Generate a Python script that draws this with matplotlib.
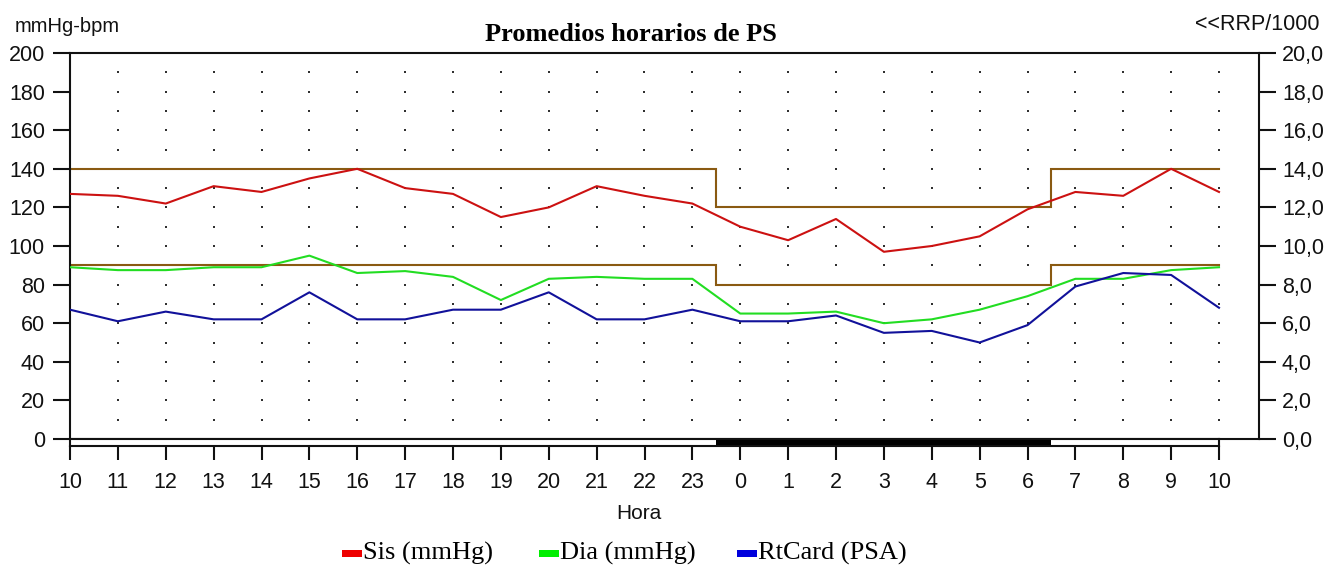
import matplotlib
matplotlib.use('Agg')
import matplotlib.pyplot as plt
from matplotlib.patches import Rectangle

# ---------------- data ----------------
hour_labels = ['10', '11', '12', '13', '14', '15', '16', '17', '18', '19', '20', '21',
               '22', '23', '0', '1', '2', '3', '4', '5', '6', '7', '8', '9', '10']
sis = [127, 126, 122, 131, 128, 135, 140, 130, 127, 115, 120, 131,
       126, 122, 110, 103, 114, 97, 100, 105, 119, 128, 126, 140, 128]
dia = [89, 87.5, 87.5, 89, 89, 95, 86, 87, 84, 72, 83, 84,
       83, 83, 65, 65, 66, 60, 62, 67, 74, 83, 83, 87.5, 89]
rtcard = [67, 61, 66, 62, 62, 76, 62, 62, 67, 67, 76, 62,
          62, 67, 61, 61, 64, 55, 56, 50, 59, 79, 86, 85, 68]
series_names = ['Sis (mmHg)', 'Dia (mmHg)', 'RtCard (PSA)']
sis_limits = [140, 120]      # day, night
dia_limits = [90, 80]        # day, night
night_hours = [23.5, 6.5]    # start, end (clock hours)
left_ticks = list(range(0, 201, 20))
right_ticks = list(range(0, 21, 2))

# ---------------- style ----------------
W, H = 1328, 566
line_colors = ['#cc1111', '#22dd22', '#11119a']
legend_colors = ['#ee0000', '#00ee00', '#0000dd']
limit_color = '#8a5a12'
SANS = 'Liberation Sans'
SERIF = 'Liberation Serif'

fig = plt.figure(figsize=(W / 100, H / 100), dpi=100)
fig.patch.set_facecolor('white')


def fx(px):
    return px / W


def fy(py):
    return 1 - py / H


x0, x24, xright = 70, 1219, 1259
ytop, yzero, ybar = 53, 439, 446
pph = (x24 - x0) / 24.0

ax = fig.add_axes([fx(x0), fy(yzero), fx(xright) - fx(x0), fy(ytop) - fy(yzero)])
n = len(hour_labels)
xs = list(range(n))
ax.set_xlim(0, 24 + (xright - x24) / pph)
ax.set_ylim(0, 200)

# dotted grid
gx, gy = [], []
for i in range(1, n):
    for v in range(10, 200, 10):
        gx.append(i)
        gy.append(v)
ax.scatter(gx, gy, s=2.2, marker='s', color='#303030', linewidths=0, zorder=1)

# limits (step lines)
ns = (night_hours[0] - 10) % 24
ne = (night_hours[1] - 10) % 24
lim_x = [0, ns, ns, ne, ne, 24]
for lim in (sis_limits, dia_limits):
    lim_y = [lim[0], lim[0], lim[1], lim[1], lim[0], lim[0]]
    ax.plot(lim_x, lim_y, color=limit_color, lw=1.5, zorder=2, solid_joinstyle='miter')

for vals, c in zip((sis, dia, rtcard), line_colors):
    ax.plot(xs, vals, color=c, lw=1.5, zorder=3)

ax.set_yticks(left_ticks)
ax.set_yticklabels([str(v) for v in left_ticks], fontfamily=SANS, fontsize=15.5)
ax.tick_params(axis='y', direction='out', length=12.2, width=1.5, pad=5.8, colors='#111111')
ax.tick_params(axis='x', bottom=False, labelbottom=False)
for s in ('left', 'top', 'bottom'):
    ax.spines[s].set_linewidth(1.5)
    ax.spines[s].set_color('#111111')
ax.spines['right'].set_visible(False)

ax2 = ax.twinx()
ax2.set_ylim(0, 20)
ax2.set_yticks(right_ticks)
ax2.set_yticklabels([f"{v:.1f}".replace('.', ',') for v in right_ticks], fontfamily=SANS, fontsize=15.5)
ax2.tick_params(axis='y', direction='out', length=12.2, width=1.5, pad=4.3, colors='#111111')
for s in ('left', 'top', 'bottom'):
    ax2.spines[s].set_visible(False)
ax2.spines['right'].set_linewidth(1.5)
ax2.spines['right'].set_color('#111111')

# day/night bar with hour ticks
axb = fig.add_axes([fx(x0), fy(ybar), fx(x24) - fx(x0), fy(yzero) - fy(ybar)])
axb.set_xlim(0, 24)
axb.set_ylim(0, 1)
axb.axvspan(ns, ne, color='black', lw=0)
axb.set_yticks([])
axb.set_xticks(xs)
axb.set_xticklabels(hour_labels, fontfamily=SANS, fontsize=15.5)
axb.tick_params(axis='x', direction='out', length=10, width=1.5, pad=8.5, colors='#111111')
for s in axb.spines.values():
    s.set_linewidth(1.5)
    s.set_color('#111111')

# texts
fig.text(fx(15), fy(32), 'mmHg-bpm', fontfamily=SANS, fontsize=14.5, ha='left', va='baseline', color='#111111')
fig.text(fx(1320), fy(30), '<<RRP/1000', fontfamily=SANS, fontsize=15.5, ha='right', va='baseline', color='#111111')
fig.text(fx(630.5), fy(41), 'Promedios horarios de PS', fontfamily=SERIF, fontweight='bold',
         fontsize=19, ha='center', va='baseline', color='black')
fig.text(fx(639), fy(519), 'Hora', fontfamily=SANS, fontsize=15, ha='center', va='baseline', color='#111111')

# legend
leg_sq_x = [342, 539, 737]
for sx, name, c in zip(leg_sq_x, series_names, legend_colors):
    fig.add_artist(Rectangle((fx(sx), fy(557)), 20 / W, 7 / H, transform=fig.transFigure,
                             facecolor=c, edgecolor='none'))
    fig.text(fx(sx + 21), fy(560), name, fontfamily=SERIF, fontsize=19, ha='left', va='baseline', color='black')

fig.savefig('out.png', dpi=100, facecolor='white')
